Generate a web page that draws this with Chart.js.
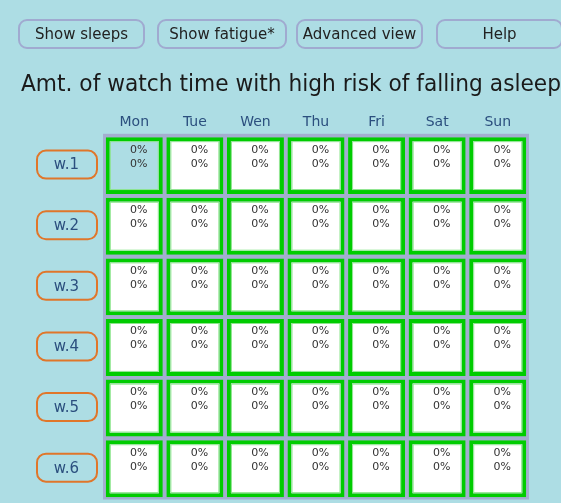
<!DOCTYPE html>
<html><head><meta charset="utf-8">
<script src="https://cdn.jsdelivr.net/npm/chart.js@4/dist/chart.umd.min.js"></script>
<style>
html,body{margin:0;padding:0;background:#ADDDE4;width:561px;height:503px;overflow:hidden;font-family:"DejaVu Sans",Verdana,sans-serif;}
.btn{position:absolute;z-index:2;top:19px;height:30px;box-sizing:border-box;border:2px solid #A0AAD0;border-radius:9px;font-size:15px;line-height:26px;text-align:center;color:#222;}
#wrap{position:absolute;left:0;top:0;width:561px;height:503px;z-index:1;}
</style></head>
<body>
<div class="btn" style="left:18px;width:127px">Show sleeps</div>
<div class="btn" style="left:157px;width:130px">Show fatigue*</div>
<div class="btn" style="left:296px;width:127px">Advanced view</div>
<div class="btn" style="left:436px;width:127px">Help</div>
<div id="wrap"><canvas id="c"></canvas></div>
<script>
const titleText = 'Amt. of watch time with high risk of falling asleep';
const days = ['Mon','Tue','Wen','Thu','Fri','Sat','Sun'];
const weeks = ['w.1','w.2','w.3','w.4','w.5','w.6'];
// first line in each cell
const riskTop = [
  [0,0,0,0,0,0,0],
  [0,0,0,0,0,0,0],
  [0,0,0,0,0,0,0],
  [0,0,0,0,0,0,0],
  [0,0,0,0,0,0,0],
  [0,0,0,0,0,0,0]
];
// second line in each cell
const riskBottom = [
  [0,0,0,0,0,0,0],
  [0,0,0,0,0,0,0],
  [0,0,0,0,0,0,0],
  [0,0,0,0,0,0,0],
  [0,0,0,0,0,0,0],
  [0,0,0,0,0,0,0]
];
const currentWeek = 0, currentDay = 0;
const PAGE_BG = '#ADDDE4';
const GAP = 0.0305;

const datasets = weeks.map((w, i) => ({
  label: w,
  data: days.map(() => [i + GAP, i + 1 - GAP]),
  grouped: false,
  backgroundColor: days.map((d, j) => (i === currentWeek && j === currentDay) ? PAGE_BG : '#ffffff'),
  borderColor: '#00CC00',
  borderWidth: 4,
  borderSkipped: false,
  barPercentage: 0.941,
  categoryPercentage: 1
}));

const gridBg = {
  id: 'gridBg',
  beforeDatasetsDraw(chart) {
    const a = chart.chartArea, ctx = chart.ctx;
    ctx.save();
    ctx.fillStyle = '#A3AECF';
    ctx.fillRect(a.left - 1, a.top - 1.5, a.right - a.left + 2, a.bottom - a.top + 2);
    ctx.restore();
  }
};

const cellText = {
  id: 'cellText',
  afterDatasetsDraw(chart) {
    const ctx = chart.ctx;
    ctx.save();
    chart.data.datasets.forEach((ds, i) => {
      chart.getDatasetMeta(i).data.forEach((el, j) => {
        const p = el.getProps(['x', 'y', 'base', 'width'], true);
        const top = Math.min(p.y, p.base), bot = Math.max(p.y, p.base);
        ctx.strokeStyle = '#8BE58B';
        ctx.lineWidth = 1;
        ctx.strokeRect(p.x - p.width / 2 + 4.5, top + 4.5, p.width - 9, bot - top - 9);
        ctx.font = '11px "DejaVu Sans", Verdana, sans-serif';
        ctx.fillStyle = '#333333';
        ctx.textAlign = 'center';
        ctx.textBaseline = 'middle';
        ctx.fillText(riskTop[i][j] + '%', p.x + 4.5, top + 12.5);
        ctx.fillText(riskBottom[i][j] + '%', p.x + 4.5, top + 26.5);
      });
    });
    ctx.restore();
  }
};

const weekBoxes = {
  id: 'weekBoxes',
  afterDraw(chart) {
    const s = chart.scales.y, a = chart.chartArea, ctx = chart.ctx;
    ctx.save();
    ctx.strokeStyle = '#E0762A';
    ctx.lineWidth = 2;
    s.ticks.forEach((t, k) => {
      const y = s.getPixelForTick(k);
      ctx.beginPath();
      ctx.roundRect(a.left - 67, y - 15, 60, 28, 9);
      ctx.stroke();
    });
    ctx.restore();
  }
};

new Chart(document.getElementById('c'), {
  type: 'bar',
  data: { labels: days, datasets },
  options: {
    responsive: true,
    maintainAspectRatio: false,
    animation: false,
    layout: { padding: { top: 62, left: 21, right: 0, bottom: 4 } },
    plugins: {
      legend: { display: false },
      tooltip: { enabled: false },
      title: {
        display: true,
        text: titleText,
        align: 'start',
        color: '#1a1a1a',
        font: { family: '"DejaVu Sans", Verdana, sans-serif', size: 22.5, weight: 'normal' },
        padding: { top: 10, bottom: 0 }
      }
    },
    scales: {
      x: {
        position: 'top',
        offset: true,
        grid: { display: false, drawTicks: false },
        border: { display: false },
        ticks: { color: '#2B4F7E', padding: 5, font: { family: '"DejaVu Sans", Verdana, sans-serif', size: 14 } },
        afterFit(scale) { scale.height = 36.3; scale.paddingLeft = 0; scale.paddingRight = 0; }
      },
      y: {
        type: 'linear',
        min: 0, max: 6,
        reverse: true,
        grid: { display: false, drawTicks: false },
        border: { display: false },
        afterBuildTicks(scale) { scale.ticks = weeks.map((w, i) => ({ value: i + 0.5 })); },
        ticks: {
          color: '#2B4F7E',
          padding: 25,
          font: { family: '"DejaVu Sans", Verdana, sans-serif', size: 15 },
          callback: (v, idx) => weeks[idx]
        },
        afterFit(scale) { scale.width = 83; scale.paddingTop = 0; scale.paddingBottom = 0; }
      },
      y2: {
        position: 'right',
        display: true,
        grid: { display: false, drawTicks: false },
        border: { display: false },
        ticks: { display: false },
        afterFit(scale) { scale.width = 33; scale.paddingTop = 0; scale.paddingBottom = 0; }
      }
    }
  },
  plugins: [gridBg, cellText, weekBoxes]
});
</script>
</body></html>
